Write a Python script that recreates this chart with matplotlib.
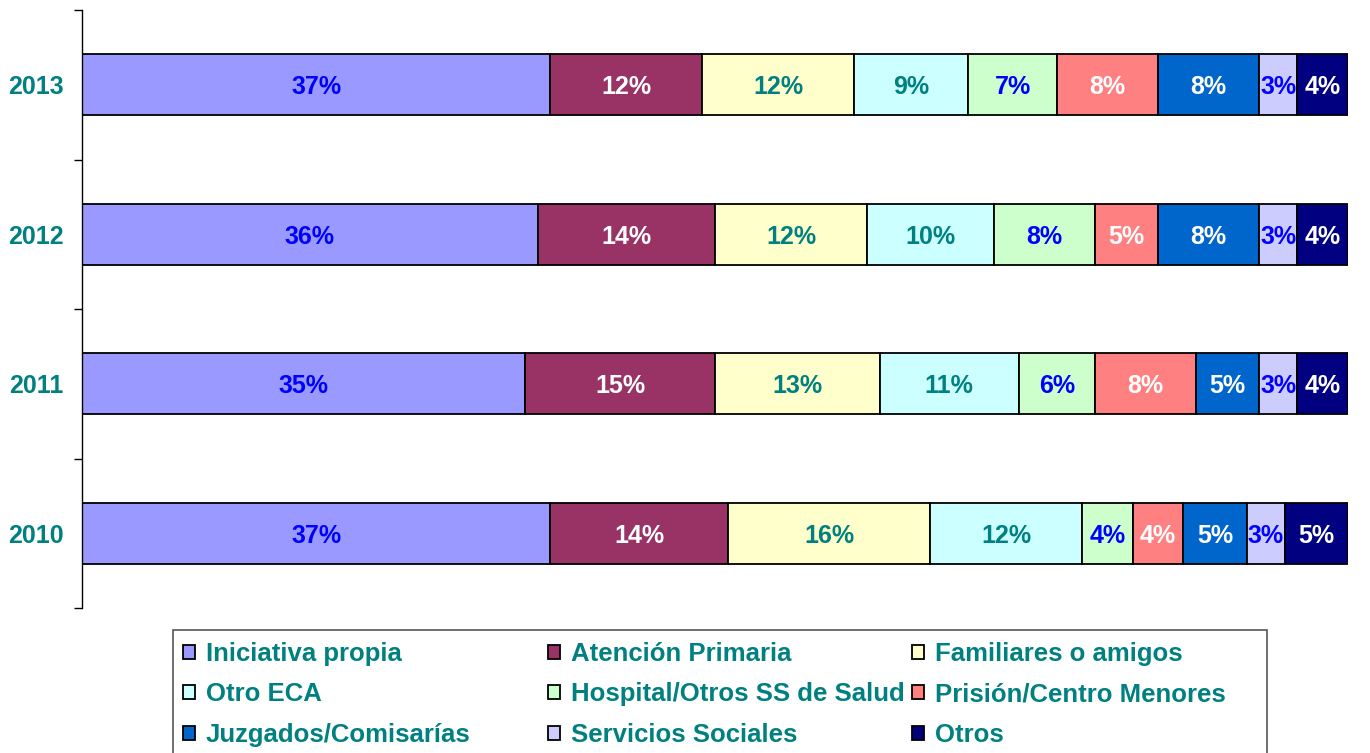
import matplotlib.pyplot as plt
from matplotlib.patches import Rectangle

plt.rcParams['font.family'] = ['Liberation Sans', 'DejaVu Sans']
plt.rcParams['font.weight'] = 'bold'

# Datos (porcentaje por origen de la demanda)
years = ['2013', '2012', '2011', '2010']
categorias = ['Iniciativa propia', 'Atención Primaria', 'Familiares o amigos',
              'Otro ECA', 'Hospital/Otros SS de Salud', 'Prisión/Centro Menores',
              'Juzgados/Comisarías', 'Servicios Sociales', 'Otros']
iniciativa = [37, 36, 35, 37]
atencion = [12, 14, 15, 14]
familiares = [12, 12, 13, 16]
otro_eca = [9, 10, 11, 12]
hospital = [7, 8, 6, 4]
prision = [8, 5, 8, 4]
juzgados = [8, 8, 5, 5]
servicios = [3, 3, 3, 3]
otros = [4, 4, 4, 5]

series = [iniciativa, atencion, familiares, otro_eca, hospital,
          prision, juzgados, servicios, otros]
colores = ['#9999FF', '#993366', '#FFFFCC', '#CCFFFF', '#CCFFCC',
           '#FF8080', '#0066CC', '#CCCCFF', '#000080']
color_texto = ['#0000FF', 'white', '#008080', '#008080', '#0000FF',
               'white', 'white', '#0000FF', 'white']
teal = '#008080'

W, H = 1370, 753
fig = plt.figure(figsize=(W / 100, H / 100), dpi=100)
ax = fig.add_axes([82 / W, 1 - 608 / H, (1348 - 82) / W, 598 / H])

left = [0] * len(years)
handles = []
for nombre, vals, c, tc in zip(categorias, series, colores, color_texto):
    bars = ax.barh(years, vals, left=left, height=0.41, color=c,
                   edgecolor='black', linewidth=1.3, label=nombre)
    txts = ax.bar_label(bars, labels=[f'{v}%' for v in vals], label_type='center',
                        color=tc, fontsize=18, fontweight='bold')
    for t in txts:
        t.set_va('center_baseline')
    handles.append(bars)
    left = [l + v for l, v in zip(left, vals)]

ax.set_xlim(0, 100)
ax.set_ylim(-0.5, 3.5)
ax.invert_yaxis()
for s in ['top', 'right', 'bottom']:
    ax.spines[s].set_visible(False)
ax.spines['left'].set_linewidth(1.0)
ax.set_xticks([])
ax.set_yticks([-0.5, 0.5, 1.5, 2.5, 3.5], minor=True)
ax.tick_params(axis='y', which='major', length=0, pad=13,
               labelsize=18, labelcolor=teal)
ax.tick_params(axis='y', which='minor', length=6, width=1, direction='out')
for t in ax.get_yticklabels():
    t.set_fontweight('bold')

# Leyenda en tres columnas de ancho fijo
col_x = [183, 548, 912]
for i, x in enumerate(col_x):
    idx = [i, i + 3, i + 6]
    fig.legend([handles[k] for k in idx], [categorias[k] for k in idx],
               loc='upper left', bbox_to_anchor=(x / W, 1 - 642 / H),
               frameon=False, fontsize=18.5, labelcolor=teal,
               handlelength=0.48, handleheight=0.48, handletextpad=0.4,
               labelspacing=0.64, borderpad=0, borderaxespad=0)

fig.patches.append(Rectangle((173 / W, -0.05), (1267 - 173) / W, 0.05 + 123 / H,
                             transform=fig.transFigure, fill=False,
                             edgecolor='#555555', linewidth=1.2))

fig.savefig('out.png', dpi=100)
